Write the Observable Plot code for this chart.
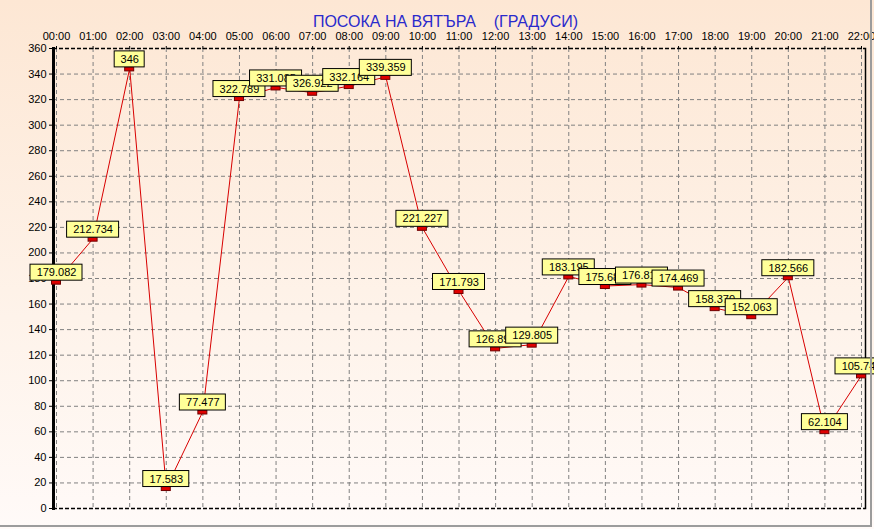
<!DOCTYPE html>
<html><head><meta charset="utf-8">
<script src="https://cdn.jsdelivr.net/npm/d3@7"></script>
<script src="https://cdn.jsdelivr.net/npm/@observablehq/plot@0.6"></script>
<style>
body{margin:0;background:#fff}
#wrap{position:relative;width:874px;height:529px;overflow:hidden}
#wrap svg{display:block}
.bR{position:absolute;left:870px;top:0;width:2px;height:527px;background:#9c9c9c}
.bB{position:absolute;left:0;top:525px;width:872px;height:2px;background:#9c9c9c}
</style>
</head><body><div id="wrap"></div>
<script>
const hours = ["00:00","01:00","02:00","03:00","04:00","05:00","06:00","07:00","08:00","09:00","10:00","11:00",
  "12:00","13:00","14:00","15:00","16:00","17:00","18:00","19:00","20:00","21:00","22:00"];
const values = [179.082, 212.734, 346, 17.583, 77.477, 322.789, 331.085, 326.922, 332.164, 339.359, 221.227, 171.793,
  126.893, 129.805, 183.195, 175.683, 176.815, 174.469, 158.370, 152.063, 182.566, 62.104, 105.744];
const yTicks = d3.range(0, 361, 20);
const title = "ПОСОКА НА ВЯТЪРА\u00a0\u00a0\u00a0 (ГРАДУСИ)";

const FONT = "'Liberation Sans', Arial, sans-serif";
const fmt = v => Number.isInteger(v) ? String(v) : v.toFixed(3);
const data = values.map((v, i) => ({i, hour: hours[i], v, label: fmt(v)}));

const ctx = document.createElement("canvas").getContext("2d");
ctx.font = "11px 'Liberation Sans'";
const boxW = s => Math.round(ctx.measureText(s).width) + 12;

const labelMarks = data.flatMap(d => {
  const w = boxW(d.label);
  return [
    Plot.rect([d], {x1: "i", x2: "i", y1: "v", y2: "v", insetLeft: -w / 2, insetRight: -w / 2,
      insetTop: -15, insetBottom: -1, fill: "#ffff99", stroke: "#000", strokeWidth: 1}),
    Plot.text([d], {x: "i", y: "v", text: "label", dy: -7, fill: "#000", fontSize: 11})
  ];
});

const gridStyle = {stroke: "#808080", strokeOpacity: 1, strokeDasharray: "4,3"};

const chart = Plot.plot({
  width: 874, height: 529,
  marginLeft: 53, marginRight: 9, marginTop: 48, marginBottom: 21,
  style: {background: "linear-gradient(#fde7d4, #fef3ea 60%, #fffaf8)", fontFamily: FONT, fontSize: "11px", color: "#000"},
  x: {domain: [-0.082, 22.109], label: null},
  y: {domain: [0, 360], label: null},
  marks: [
    Plot.gridX(d3.range(hours.length), gridStyle),
    Plot.gridY(yTicks.slice(1, -1), gridStyle),
    Plot.ruleY([0, 360], {stroke: "#000", strokeDasharray: "4,2", strokeWidth: 1.5}),
    Plot.frame({anchor: "right", stroke: "#000", strokeWidth: 1.5}),
    Plot.frame({anchor: "left", stroke: "#000", strokeWidth: 3}),
    Plot.axisY({ticks: yTicks, tickSize: 4, tickPadding: 3, stroke: "#000", fontSize: 11, label: null}),
    Plot.axisX({anchor: "top", ticks: d3.range(hours.length), tickFormat: i => hours[i], tickSize: 3, tickPadding: 6, fontSize: 11, label: null}),
    Plot.line(data, {x: "i", y: "v", stroke: "#d80000", strokeWidth: 1, dy: 2}),
    Plot.rect(data, {x1: "i", x2: "i", y1: "v", y2: "v", insetLeft: -4.5, insetRight: -4.5,
      insetTop: 1, insetBottom: -5, fill: "#e00000", stroke: "#700000", strokeWidth: 1}),
    ...labelMarks,
    Plot.text([title], {text: d => d, frameAnchor: "top", dy: -33, dx: -14, fontSize: 16, fill: "#2a2acc"})
  ]
});
const wrap = document.getElementById("wrap");
wrap.appendChild(chart);
const r = document.createElement("div"); r.className = "bR"; wrap.appendChild(r);
const b = document.createElement("div"); b.className = "bB"; wrap.appendChild(b);
</script>
</body></html>
